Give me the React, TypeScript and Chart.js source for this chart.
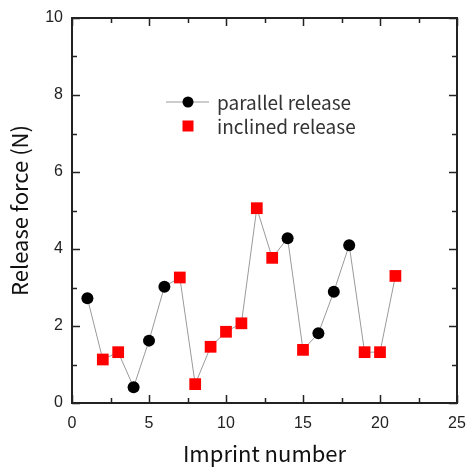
import React, { useEffect, useRef } from "react";
import { Chart, registerables } from "chart.js";

Chart.register(...registerables);

const imprintNumbers = [1, 2, 3, 4, 5, 6, 7, 8, 9, 10, 11, 12, 13, 14, 15, 16, 17, 18, 19, 20, 21];
const releaseForces = [2.72, 1.13, 1.32, 0.41, 1.62, 3.02, 3.26, 0.49, 1.46, 1.85, 2.07, 5.06, 3.77, 4.28, 1.38, 1.81, 2.89, 4.10, 1.32, 1.32, 3.30];
const parallelImprints = [1, 4, 5, 6, 14, 16, 17, 18];
const xTicks = [0, 5, 10, 15, 20, 25];
const yTicks = [0, 2, 4, 6, 8, 10];
const legendLabels = ["parallel release", "inclined release"];
const xTitle = "Imprint number";
const yTitle = "Release force (N)";

const W = 468;
const H = 471;
const LEFT = 72;
const TOP = 18;
const RIGHT = 457;
const BOTTOM = 403;

const TITLE_FONT = "'Noto Sans CJK JP', 'Noto Sans', sans-serif";
const TICK_FONT = "'Liberation Sans', Arial, sans-serif";

export default function App() {
  const ref = useRef<HTMLCanvasElement | null>(null);

  useEffect(() => {
    const canvas = ref.current;
    if (!canvas) return;

    const allPoints = imprintNumbers.map((x, i) => ({ x, y: releaseForces[i] }));
    const parallelPts = allPoints.filter((p) => parallelImprints.includes(p.x));
    const inclinedPts = allPoints.filter((p) => !parallelImprints.includes(p.x));

    const framePlugin = {
      id: "frame",
      afterDraw(chart: any) {
        const ctx = chart.ctx;
        const xs = chart.scales.x;
        const ys = chart.scales.y;
        const l = xs.left, r = xs.right, t = ys.top, b = ys.bottom;
        ctx.save();
        ctx.strokeStyle = "#222";
        ctx.lineWidth = 1.5;
        for (let v = 0; v <= 25; v += 2.5) {
          const px = Math.round(xs.getPixelForValue(v)) + 0.5;
          const len = v % 5 === 0 ? 8 : 5;
          ctx.beginPath();
          ctx.moveTo(px, b);
          ctx.lineTo(px, b - len);
          ctx.moveTo(px, t);
          ctx.lineTo(px, t + len);
          ctx.stroke();
        }
        for (let v = 0; v <= 10; v += 1) {
          const py = Math.round(ys.getPixelForValue(v)) + 0.5;
          const len = v % 2 === 0 ? 8 : 5;
          ctx.beginPath();
          ctx.moveTo(l, py);
          ctx.lineTo(l + len, py);
          ctx.moveTo(r, py);
          ctx.lineTo(r - len, py);
          ctx.stroke();
        }
        ctx.lineWidth = 2;
        ctx.strokeRect(l, t, r - l, b - t);

        // legend
        const lx = l + 116;
        const ly1 = t + 84;
        const ly2 = t + 108;
        ctx.strokeStyle = "#999";
        ctx.lineWidth = 1;
        ctx.beginPath();
        ctx.moveTo(lx - 22, ly1);
        ctx.lineTo(lx + 21, ly1);
        ctx.stroke();
        ctx.fillStyle = "#000";
        ctx.beginPath();
        ctx.arc(lx, ly1, 5.5, 0, Math.PI * 2);
        ctx.fill();
        ctx.fillStyle = "#ff0000";
        ctx.fillRect(lx - 5.5, ly2 - 5.5, 11, 11);
        ctx.fillStyle = "#333";
        ctx.font = "19px " + TITLE_FONT;
        ctx.textBaseline = "middle";
        ctx.textAlign = "left";
        ctx.fillText(legendLabels[0], lx + 29, ly1 + 1);
        ctx.fillText(legendLabels[1], lx + 29, ly2 + 1);
        ctx.restore();
      },
    };

    const chart = new Chart(canvas, {
      type: "scatter",
      data: {
        datasets: [
          {
            label: "connect",
            type: "line",
            data: allPoints,
            borderColor: "#9a9a9a",
            borderWidth: 1,
            pointRadius: 0,
            fill: false,
            order: 3,
          },
          {
            label: legendLabels[0],
            data: parallelPts,
            pointStyle: "circle",
            pointRadius: 6,
            pointBackgroundColor: "#000",
            pointBorderColor: "#000",
            pointBorderWidth: 0,
            order: 1,
          },
          {
            label: legendLabels[1],
            data: inclinedPts,
            pointStyle: "rect",
            pointRadius: 8.3,
            pointBackgroundColor: "#ff0000",
            pointBorderColor: "#ff0000",
            pointBorderWidth: 0,
            order: 2,
          },
        ] as any,
      },
      options: {
        animation: false,
        responsive: false,
        maintainAspectRatio: false,
        layout: { padding: { top: TOP, right: 0, left: 0, bottom: 0 } },
        plugins: { legend: { display: false }, tooltip: { enabled: false } },
        scales: {
          x: {
            type: "linear",
            min: 0,
            max: 25,
            afterBuildTicks: (s: any) => {
              s.ticks = xTicks.map((v) => ({ value: v }));
            },
            afterFit: (s: any) => {
              s.height = H - BOTTOM;
              s.paddingLeft = 0;
              s.paddingRight = W - RIGHT;
            },
            grid: { display: false, drawTicks: false },
            border: { display: false },
            ticks: {
              padding: 11,
              color: "#222",
              font: { family: TICK_FONT, size: 16 },
              maxRotation: 0,
            },
            title: {
              display: true,
              text: xTitle,
              color: "#111",
              font: { family: TITLE_FONT, size: 22 },
              padding: { top: 0, bottom: 4 },
            },
          },
          y: {
            type: "linear",
            min: 0,
            max: 10,
            afterBuildTicks: (s: any) => {
              s.ticks = yTicks.map((v) => ({ value: v }));
            },
            afterFit: (s: any) => {
              s.width = LEFT;
              s.paddingTop = 0;
              s.paddingBottom = 0;
            },
            grid: { display: false, drawTicks: false },
            border: { display: false },
            ticks: {
              padding: 9,
              color: "#222",
              font: { family: TICK_FONT, size: 16 },
            },
            title: {
              display: true,
              text: yTitle,
              color: "#111",
              font: { family: TITLE_FONT, size: 22 },
              padding: { top: 6, bottom: 0 },
            },
          },
        },
      } as any,
      plugins: [framePlugin],
    });

    return () => chart.destroy();
  }, []);

  return (
    <div style={{ position: "fixed", left: 0, top: 0, width: W, height: H, background: "#fff" }}>
      <canvas ref={ref} width={W} height={H} style={{ width: W, height: H }} />
    </div>
  );
}
